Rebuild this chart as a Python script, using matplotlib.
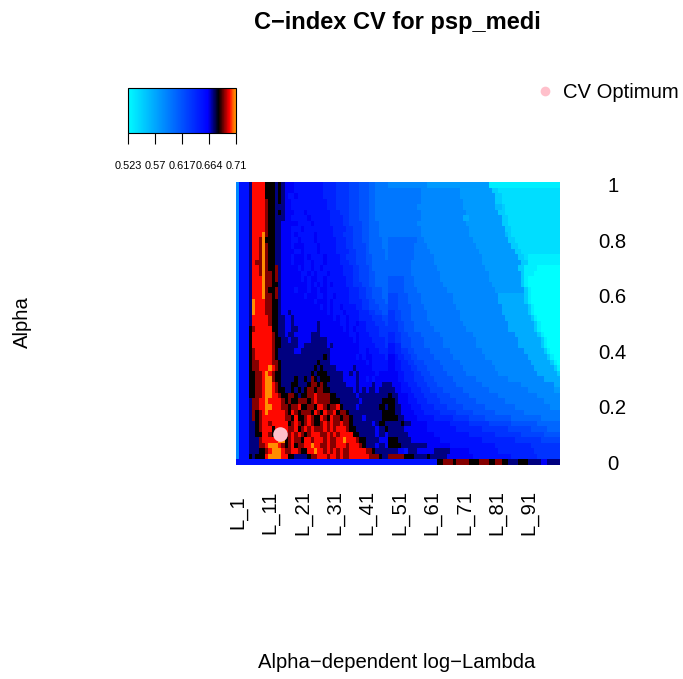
import numpy as np
import matplotlib
matplotlib.use("Agg")
import matplotlib.pyplot as plt
from matplotlib.colors import LinearSegmentedColormap
from matplotlib.lines import Line2D

plt.rcParams['font.family'] = ['Liberation Sans', 'DejaVu Sans']

TITLE = "C\u2212index CV for psp_medi"
XLABEL = "Alpha\u2212dependent log\u2212Lambda"
YLABEL = "Alpha"
X_TICK_LABELS = ["L_1", "L_11", "L_21", "L_31", "L_41", "L_51", "L_61", "L_71", "L_81", "L_91"]
X_TICK_COLUMNS = [0, 10, 20, 30, 40, 50, 60, 70, 80, 90]
ALPHA_TICKS = [1, 0.8, 0.6, 0.4, 0.2, 0]
ALPHA_TICK_LABELS = ["1", "0.8", "0.6", "0.4", "0.2", "0"]
CBAR_TICKS = [0.523, 0.57, 0.617, 0.664, 0.71]
CBAR_LABELS = ["0.523", "0.57", "0.617", "0.664", "0.71"]
VMIN, VMAX = 0.523, 0.71
OPT_COLUMN, OPT_ALPHA = 13, 0.1
LEVELS = "0123456789abcdefghijk"

# C-index, as colour levels; rows go from alpha=1 down to alpha=0.
# Columns 0-46
LEFT_ROWS = [
"7eeegjjjjhhhghgfffeeeeeeeeeddddccccbbbaaa998888",
"7eeegjjjjhhhghgfffeeeeeeeeeddddccccbbbaaa998888",
"7eeegjjjjhhhghgfeefeeeeeeeeddddccccbbbaaa998888",
"7eeegjjjjihhghgffeeeeeeeeeeedddccccbbbaaa998888",
"7eeegjjjjihhgggffeeeeeeeeeeedddccccbbbaaa998888",
"7eeegjjjjihhghgfffeeefeeeeeeedddcccbbbaaa998888",
"7eeegjjjjihhgggffeeeeefeeeeeeddddccbbbaaa998888",
"7eeegjjjjihhggfffffeeeefeeeeeddddccbbbbaa999888",
"7eeegjjjjihhggfffeeefeeeeeeeeeddddccbbbaa999888",
"7eeegjjjkihhggfffefeeeeefeeeeedddcccbbbaa999888",
"7eeegjjikhhhggfffeefeeeefeeeeeedddccbbbaa999988",
"7eeegjjikihhggfffefffeeeefeeeeedddccbbbba999988",
"7eeegjjikihhggffffeefeeeefeeeeeddddccbbba999998",
"7eeegjjikihhggfffefffefeeeefeeeeddcccbbbaa99998",
"7eeegjiikihhggfffefffeefeeefeeeedddccbbbaa99999",
"7eeegjjikihhigfffffefeefeefeeeeeedddccbbba99999",
"7eeegjjikiihigffffffeefefeeefeeeedddccbbbaa9999",
"7eeegjjjkiihigffffffefeffeefeeeeeeddccbbbaa9999",
"7eeegjjjkiihhgffffffffefefefefeeeeddcccbbaa9999",
"7eeegjjjkihhigffffefffeffeffeeeeeeedddccbbaaa99",
"7eeegjjjkiihigfffffffefffeefeefeeeedddccbbaaa99",
"7eeegkjjjiihhgffffffffffefffefeeeeeddddccbbaaa9",
"7eeegkjjjiihhgffffffffffffefefeefeeeeddccbbbaaa",
"7eeegkjjjiihhgffgfffffffffffefeeefeeeedddccbbaa",
"7eeegjjjjjihhggffgffffffffffffefeefeeeddddcccbb",
"7eeegjjjjjihhggffgfffffffgffffffeefeefeedddcccb",
"7eeehijjjjjhhggffggffffffgfffffffefefeeeddddccc",
"7eeehjjjjjjihggfggfffffgggfffffffffeefeeedddccc",
"7eeehjjjjjjihhggfggffffgggggffffffffefeeeeddddc",
"7eeehjjjjjjihhgggggffgggggggfgffffffffeeeeedddc",
"7eeehijjjjjihgggggffgggggggggfffffffffeefeeeddd",
"7eeehijjjjjihgggggggggggggghgffffffffefeffeeeed",
"7eeehiijjjjiihggggggggggghgggfffffffffffefeeeee",
"7eeehiijjjkjihgggggggggghghggggfffffgfffffeeeee",
"7eeehhiijkjihhggggggggghghhhgggggffgfgfffffefff",
"7eeehhiijkkihhgggghgghgihghhhggggffffgffefeffff",
"7eeehhiijkkjihggghhggghiihihggggggfffgffffgffgg",
"7eeehhiijkkjihhgghghghiihiihhgggggggfgfgfggfggg",
"7eeehhiijkkjjihhiihghhiijiiiihhggggggfgggggggggh",
"7eeegiijjkjjjjihihhiiihijiiiihhhggggggfgggggghh",
"7eeegiijjkkjjjiihiijhhiihjjihiijhggggfgggggghhg",
"7eeegihijkjjjjjihjihiiihjihjiijhiihgggggggggghh",
"7eeegihijjjjjjjiihjhhijihhjihjiihiihgggfggggghhg",
"7eeegghijjijjjjjhijihijihhijijiijiihggggggfghhg",
"7eeegghijjjhjjjjiijhijijiiijijijjjihhggggggfggh",
"7eeegghhjjihjjjiijijihijjjiijijijjjjhhgggggfggf",
"7eeegggijjjjjkkhijiihjjijjjijiijjkjjjihhggggfff",
"7eeegggiijkkkjihijhiijjkjjiijiijjjijjjihgggfggf",
"7eeeggghhijkkkjiijjihhjjkjjijijijiijjjjjiihgggg",
"7eeehghhhjkkkkjjhhgggghiijjjijjijiijjjjjjiiihgg",
]
# Columns 47-99; the last level of a row runs on to the right edge
RIGHT_ROWS = [
"7"*12+"6"*19+"1"*22,
"8"*10+"7"*12+"6"*10+"3"*2+"2"*19,
"8"*10+"7"*12+"6"*11+"3"*2+"2"*18,
"8"*10+"7"*13+"6"*10+"3"*2+"2"*18,
"8"*9+"7"*14+"6"*10+"4"*2+"3"*1+"2"*17,
"8"*10+"7"*14+"6"*10+"3"*2+"2"*17,
"8"*10+"7"*13+"5"*2+"6"*10+"3"*2+"2"*16,
"8"*9+"7"*15+"6"*11+"3"*2+"2"*16,
"8"*10+"7"*15+"6"*11+"3"*2+"2"*15,
"8"*10+"7"*15+"6"*11+"4"*1+"3"*1+"2"*15,
"9"*9+"8"*2+"7"*15+"6"*11+"3"*2+"2"*14,
"9"*8+"8"*4+"7"*15+"6"*11+"3"*2+"2"*13,
"9"*8+"8"*5+"7"*15+"6"*11+"3"*2+"2"*12,
"9"*8+"8"*6+"7"*15+"6"*11+"3"*2+"2"*1+"1"*10,
"9"*7+"8"*7+"7"*15+"6"*12+"3"*2+"1"*10,
"9"*7+"8"*8+"7"*15+"6"*10+"3"*2+"1"*4+"0"*7,
"9"*7+"8"*9+"7"*15+"6"*10+"3"*1+"1"*3+"0"*8,
"a"*5+"9"*3+"8"*8+"7"*15+"6"*10+"3"*1+"1"*1+"0",
"a"*5+"9"*3+"8"*9+"7"*15+"6"*9+"3"*1+"1"*1+"0",
"a"*5+"9"*4+"8"*9+"7"*15+"6"*9+"3"*1+"1"*1+"0",
"b"*3+"a"*3+"9"*4+"8"*10+"7"*14+"5"*8+"3"*1+"1"*1+"0",
"b"*3+"a"*3+"9"*4+"8"*10+"7"*14+"5"*8+"3"*1+"1"*1+"0",
"b"*3+"a"*4+"9"*4+"8"*10+"7"*14+"5"*8+"3"*1+"1"*1+"0",
"c"*2+"b"*2+"a"*3+"9"*5+"8"*10+"7"*13+"5"*8+"3"*1+"1"*1+"0",
"c"*2+"b"*2+"a"*3+"9"*5+"8"*10+"7"*14+"5"*8+"3"*1+"1"*1+"0",
"c"*3+"b"*2+"a"*3+"9"*5+"8"*10+"7"*14+"5"*8+"3"*1+"1"*1+"0",
"c"*3+"b"*2+"a"*3+"9"*6+"8"*10+"7"*13+"5"*8+"3"*1+"1"*1+"0",
"d"*2+"c"*2+"b"*2+"a"*4+"9"*6+"8"*10+"7"*13+"5"*7+"3"*1+"1"*1+"0",
"d"*2+"c"*2+"b"*3+"a"*4+"9"*6+"8"*10+"7"*13+"5"*7+"3"*1+"1"*1+"0",
"e"*2+"d"*2+"b"*3+"a"*4+"9"*6+"8"*10+"7"*13+"5"*7+"3"*1+"1"*1+"0",
"e"*2+"d"*2+"c"*2+"b"*2+"a"*5+"9"*6+"8"*10+"7"*13+"5"*6+"3"*1+"1"*1+"0",
"f"*2+"e"*1+"d"*2+"c"*2+"b"*2+"a"*5+"9"*6+"8"*10+"7"*13+"5"*6+"3"*1+"1"*1+"0",
"f"*2+"e"*2+"d"*2+"c"*2+"b"*3+"a"*5+"9"*6+"8"*10+"7"*12+"5"*6+"3"*1+"1"*1+"0",
"f"*2+"e"*2+"d"*3+"c"*2+"b"*3+"a"*5+"9"*6+"8"*10+"7"*12+"5"*6+"3"*1+"1",
"f"*3+"e"*2+"d"*3+"c"*2+"b"*3+"a"*5+"9"*6+"8"*10+"7"*12+"5"*6+"3"*1,
"f"*3+"e"*2+"d"*3+"c"*3+"b"*3+"a"*6+"9"*7+"8"*10+"7"*11+"5",
"g"*1+"f"*3+"e"*2+"d"*3+"c"*3+"b"*3+"a"*6+"9"*8+"8"*12+"7"*10+"5",
"g"*2+"f"*2+"e"*3+"d"*3+"c"*3+"b"*4+"a"*6+"9"*8+"8"*12+"7"*8+"6",
"h"*1+"g"*2+"f"*3+"e"*2+"d"*3+"c"*4+"b"*4+"a"*6+"9"*9+"8"*12+"7"*7,
"h"*2+"g"*1+"f"*3+"e"*3+"d"*3+"c"*4+"b"*5+"a"*6+"9"*9+"8"*12+"7"*5,
"h"*2+"g"*2+"f"*3+"e"*3+"d"*4+"c"*4+"b"*5+"a"*7+"9"*9+"8"*11+"7"*3,
"h"*2+"g"*2+"f"*4+"e"*3+"d"*5+"c"*5+"b"*5+"a"*7+"9"*9+"8"*11,
"h"*3+"g"*2+"f"*4+"e"*5+"d"*6+"c"*5+"b"*5+"a"*8+"9"*9+"8"*6,
"g"*4+"h"*1+"g"*2+"f"*5+"e"*7+"d"*6+"c"*6+"b"*7+"a"*8+"9"*7,
"g"*5+"f"*7+"e"*9+"d"*8+"c"*8+"b"*7+"a"*5+"9"*4,
"g"*6+"f"*8+"e"*11+"d"*8+"c"*8+"b"*7+"a"*5,
"h"*3+"g"*4+"f"*9+"e"*13+"d"*10+"c"*8+"b"*6,
"h"*4+"g"*8+"f"*7+"e"*14+"d"*11+"c"*9,
"g"*3+"f"*2+"e"*1+"g"*3+"f"*5+"g"*5+"f"*6+"e"*9+"d"*11+"c"*8,
"i"*5+"h"*3+"g"*4+"h"*1+"g"*5+"f"*8+"e"*12+"d"*8+"c"*7,
]
# Alpha = 0 row, all 100 columns
BOTTOM_ROW = "e"*62+"h"*2+"i"*3+"h"*1+"i"*4+"h"*3+"i"*3+"h"*2+"i"*2+"h"*2+"g"*3+"h"*3+"g"*4+"f"*2+"g"*4


def pad(row, n):
    return (row + row[-1] * n)[:n]


left_levels = [pad(r, 47) for r in LEFT_ROWS]
right_levels = [pad(r, 53) for r in RIGHT_ROWS]
rows = [a + b for a, b in zip(left_levels, right_levels)] + [pad(BOTTOM_ROW, 100)]
frac = np.array([[LEVELS.index(c) / 20 for c in r] for r in rows])
cindex = VMIN + frac * (VMAX - VMIN)

W, H = 683, 679
fig = plt.figure(figsize=(W / 100, H / 100), dpi=100)


def px_axes(x0, y0, x1, y1):
    return fig.add_axes([x0 / W, 1 - y1 / H, (x1 - x0) / W, (y1 - y0) / H])


cmap = LinearSegmentedColormap.from_list("ci", [
    (0.0, (0, 1, 1)), (0.75, (0, 0, 1)), (0.85, (0, 0, 0)), (0.95, (1, 0, 0)), (1.0, (1, 0.55, 0))])

ax = px_axes(236, 182, 560, 465)
cols = np.arange(cindex.shape[1] + 1)
alpha_edges = np.linspace(1.01, -0.01, cindex.shape[0] + 1)
mesh = ax.pcolormesh(cols, alpha_edges, cindex, cmap=cmap, vmin=VMIN, vmax=VMAX)
ax.plot([OPT_COLUMN + 0.5], [OPT_ALPHA], "o", color="#FFC0CB", ms=10.5, mew=0, clip_on=False)
ax.set_xlim(0, 100)
ax.set_ylim(-0.01, 1.01)
for s in ax.spines.values():
    s.set_visible(False)
ax.set_xticks([c + 0.5 for c in X_TICK_COLUMNS])
ax.set_xticklabels(X_TICK_LABELS, rotation=90, va="center", ha="center", fontsize=14.6)
ax.tick_params(axis="x", length=0, pad=34)
ax.yaxis.tick_right()
ax.set_yticks(ALPHA_TICKS)
ax.set_yticklabels(ALPHA_TICK_LABELS, ha="center", fontsize=14.6)
ax.tick_params(axis="y", length=0, pad=38)

cax = px_axes(128, 88, 236, 133)
cb = fig.colorbar(mesh, cax=cax, orientation="horizontal", ticks=CBAR_TICKS)
cb.ax.set_xticklabels(CBAR_LABELS, fontsize=7.9)
cb.ax.tick_params(length=8, width=0.8, pad=12)
cb.outline.set_linewidth(0.8)
cb.solids.set_edgecolor("face")

fig.text(397 / W, 1 - 22 / H, TITLE, ha="center", va="center", fontsize=17, fontweight="bold")
fig.text(397 / W, 1 - 663 / H, XLABEL, ha="center", va="center", fontsize=14.6)
fig.text(22 / W, 1 - 322 / H, YLABEL, ha="center", va="center", rotation=90, fontsize=14.6)

handle = Line2D([], [], linestyle="none", marker="o", color="#FFC0CB", ms=7, mew=0)
fig.legend(handles=[handle], labels=["CV Optimum"], loc="center left",
           bbox_to_anchor=(535 / W, 1 - 93 / H), frameon=False, fontsize=14.6,
           handlelength=1.0, handletextpad=0.4, borderpad=0, borderaxespad=0)

fig.savefig("out.png", dpi=100)
